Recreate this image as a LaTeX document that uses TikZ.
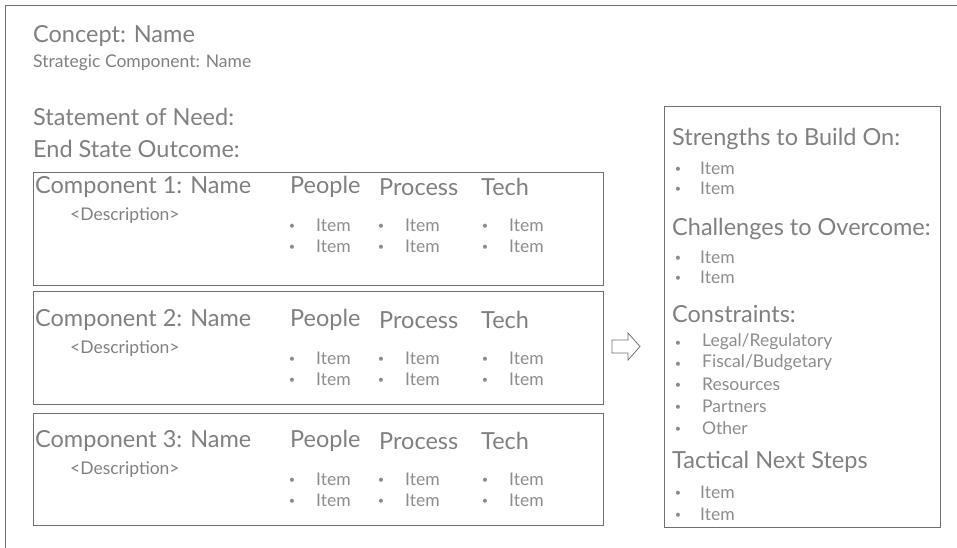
\documentclass[tikz,border=0pt]{standalone}
\usepackage{fontspec}
\setmainfont{Lato}
\usepackage{tikz}
\usepackage{xcolor}
\definecolor{txtgray}{HTML}{808080}
\definecolor{itemgray}{HTML}{8C8C8C}
\definecolor{linegray}{HTML}{707070}

\begin{document}
\begin{tikzpicture}[x=1pt,y=-1pt,
  big/.style={anchor=west,inner sep=0pt,text=txtgray,font=\fontsize{23.5}{26}\selectfont},
  mid/.style={anchor=west,inner sep=0pt,text=txtgray,font=\fontsize{17.5}{20}\selectfont},
  item/.style={anchor=west,inner sep=0pt,text=itemgray,font=\fontsize{17.5}{20}\selectfont},
  dot/.style={anchor=center,inner sep=0pt,yshift=-2pt,text=itemgray,font=\fontsize{11}{13}\selectfont},
  box/.style={draw=linegray,line width=0.8pt,anchor=north west,inner sep=0pt}]
\useasboundingbox (0,0) rectangle (957,548);

% frame
\draw[linegray,line width=0.8pt] (5,548) -- (5,5) -- (957,5);

% header
\node[big] (concept) at (33,36) {Concept: Name};
\node[mid] (strat) at (33,63) {Strategic Component: Name};
\node[big] (need) at (33,117) {Statement of Need:};
\node[big] (endstate) at (33,149) {End State Outcome:};

% components
\foreach \n/\y/\h/\t in {1/172/113/187, 2/291/113/320, 3/413/112/441} {
  \node[box,minimum width=570pt,minimum height=\h pt] (comp\n) at (33,\y) {};
  \node[big] (name\n) at (35,\t) {Component \n: Name};
  \node[mid] (desc\n) at (70,\t+29) {<Description>};
  \node[big] (people\n) at (290,\t) {People};
  \node[big] (process\n) at (379,\t) {Process};
  \node[big] (tech\n) at (481,\t) {Tech};
  \foreach \r in {0,1} {
    \foreach \c/\bx/\ix in {a/292/316, b/381/405, c/485/509} {
      \node[dot] (dot\n\c\r) at (\bx,\t+38+21*\r) {•};
      \node[item] (item\n\c\r) at (\ix,\t+38+21*\r) {Item};
    }
  }
}

% arrow
\draw[linegray,line width=0.8pt,line join=miter]
  (612,340) -- (628,340) -- (628,333) -- (640,346.5) -- (628,360)
  -- (628,353) -- (612,353) -- cycle;

% right box
\node[box,minimum width=276pt,minimum height=421pt] (summary) at (664,106) {};
\node[big] (strength) at (672,139) {Strengths to Build On:};
\node[big] (challenge) at (672,229) {Challenges to Overcome:};
\node[big] (constraint) at (672,314) {Constraints:};
\node[big] (tactical) at (672,462) {Tactical Next Steps};

\foreach \y in {168,188,257,277,492,514} {
  \node[dot] (sdot\y) at (678,\y) {•};
  \node[item] (sitem\y) at (700,\y) {Item};
}
\foreach \y/\lbl in {342/{Legal/Regulatory}, 363/{Fiscal/Budgetary},
    384/Resources, 406/Partners, 428/Other} {
  \node[dot] (cdot\y) at (678,\y) {•};
  \node[item] (citem\y) at (702,\y) {\lbl};
}
\end{tikzpicture}
\end{document}
